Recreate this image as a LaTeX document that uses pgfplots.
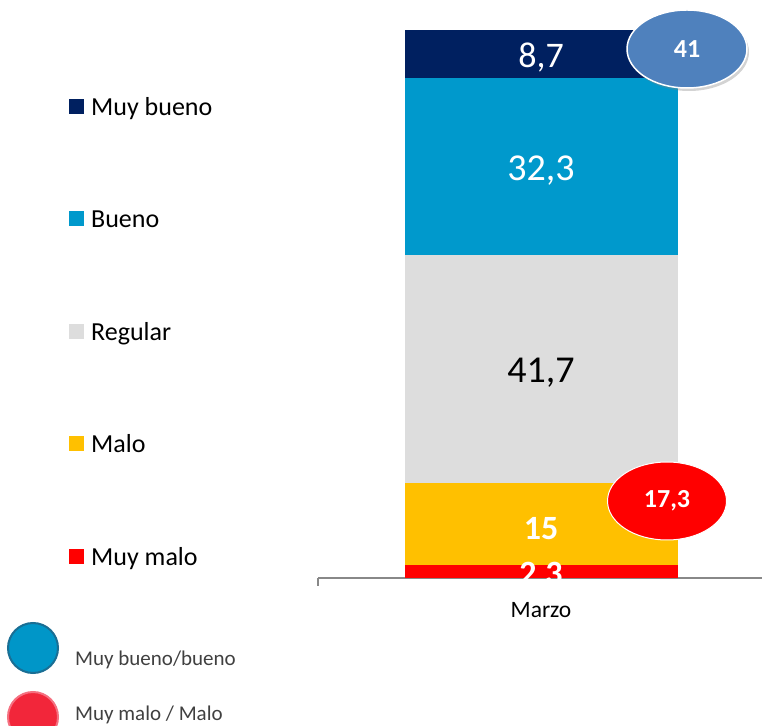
\documentclass[border=0pt]{standalone}
\usepackage{pgfplots}
\pgfplotsset{compat=1.18}
\usepackage{fontspec}
\setmainfont{Carlito}
\usetikzlibrary{shadows, shapes.geometric}

\definecolor{muybueno}{HTML}{002060}
\definecolor{bueno}{HTML}{0099CC}
\definecolor{regular}{HTML}{DDDDDD}
\definecolor{malo}{HTML}{FFC000}
\definecolor{muymalo}{HTML}{FF0000}
\definecolor{axisgray}{HTML}{888888}
\definecolor{bubbleblue}{HTML}{4F81BD}
\definecolor{textgray}{HTML}{404040}
\definecolor{keyblue}{HTML}{0096C8}
\definecolor{keyblueedge}{HTML}{1A6E94}
\definecolor{keyred}{HTML}{F2263A}
\definecolor{keyrededge}{HTML}{F57080}

\begin{document}
\begin{tikzpicture}[x=1pt,y=1pt]
  \useasboundingbox (0,0) rectangle (762,725);
  \begin{axis}[
    at={(318pt,147pt)}, anchor=south west,
    scale only axis, width=446pt, height=548pt,
    ybar stacked, bar width=273pt,
    xmin=-1, xmax=1, ymin=0, ymax=100,
    axis y line=none, axis x line*=bottom,
    axis line style={-, draw=axisgray, line width=1.5pt},
    xtick={0}, xticklabels={Marzo},
    major tick length=0pt, tick align=outside,
    extra x ticks={-1,1}, extra x tick labels={},
    extra x tick style={major tick length=8pt,
      tick style={draw=axisgray, line width=1.5pt}},
    x tick label style={font=\fontsize{23.5}{28}\selectfont, text=black,
      inner sep=0pt, yshift=-24pt},
    nodes near coords,
    every node near coord/.append style={anchor=center, inner sep=0pt,
      yshift=-4pt},
    /pgf/number format/use comma,
    /pgf/number format/assume math mode=true,
    clip=false,
  ]
    \addplot[fill=muymalo, draw=none,
      every node near coord/.append style={text=white,
        font=\fontsize{34}{40}\selectfont\bfseries}]
      coordinates {(0,2.3)};
    \addplot[fill=malo, draw=none,
      every node near coord/.append style={text=white,
        font=\fontsize{34}{40}\selectfont\bfseries}]
      coordinates {(0,15)};
    \addplot[fill=regular, draw=none,
      every node near coord/.append style={text=black,
        font=\fontsize{38}{44}\selectfont}]
      coordinates {(0,41.7)};
    \addplot[fill=bueno, draw=none,
      every node near coord/.append style={text=white,
        font=\fontsize{38}{44}\selectfont}]
      coordinates {(0,32.3)};
    \addplot[fill=muybueno, draw=none,
      every node near coord/.append style={text=white,
        font=\fontsize{36}{42}\selectfont}]
      coordinates {(0,8.7)};
  \end{axis}
  % the bottom label is cut by the axis line in the original
  \fill[white] (480,725-579.5) rectangle (600,725-596);

  % legend
  \foreach \c/\t/\yy in {muybueno/Muy bueno/107, bueno/Bueno/219,
      regular/Regular/332, malo/Malo/444, muymalo/Muy malo/557} {
    \fill[\c] (69,725-\yy-7.5) rectangle ++(15,15);
    \node[anchor=base west, inner sep=0pt, font=\fontsize{26}{30}\selectfont]
      at (91,725-\yy-9) {\t};
  }

  % bubbles
  \node[ellipse, minimum width=120pt, minimum height=78pt, fill=bubbleblue,
    draw=white, line width=1.5pt,
    drop shadow={shadow xshift=2pt, shadow yshift=-3pt, opacity=0.35},
    text=white, font=\fontsize{26}{30}\selectfont\bfseries]
    at (687,725-49) {41};
  \node[ellipse, minimum width=119pt, minimum height=78pt, fill=muymalo,
    draw=white, line width=1pt, text=white,
    font=\fontsize{26}{30}\selectfont\bfseries] at (667,725-501) {17,3};

  % bottom key
  \draw[fill=keyblue, draw=keyblueedge, line width=2pt]
    (33,725-648) circle (25);
  \draw[fill=keyred, draw=keyrededge, line width=2pt]
    (33,725-717) circle (25);
  \node[anchor=base west, inner sep=0pt, text=textgray,
    font=\fontsize{21}{25}\selectfont] at (75,725-665) {Muy bueno/bueno};
  \node[anchor=base west, inner sep=0pt, text=textgray,
    font=\fontsize{21}{25}\selectfont] at (75,725-720) {Muy malo / Malo};
\end{tikzpicture}
\end{document}
